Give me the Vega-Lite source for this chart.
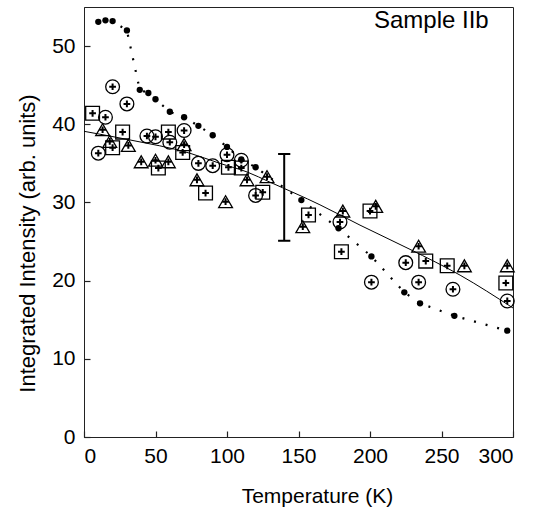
{
  "$schema": "https://vega.github.io/schema/vega-lite/v6.json",
  "autosize": {"type": "none"},
  "width": 429,
  "height": 430,
  "padding": {"left": 84, "top": 7, "right": 24, "bottom": 73},
  "background": "white",
  "config": {
    "view": {"stroke": "#222", "strokeWidth": 1},
    "font": "Liberation Sans",
    "axis": {
      "grid": false,
      "domainColor": "#222",
      "tickColor": "#222",
      "tickSize": -6,
      "tickWidth": 1.2,
      "labelFont": "Liberation Sans",
      "labelFontSize": 21,
      "labelColor": "black",
      "titleFont": "Liberation Sans",
      "titleFontWeight": "normal",
      "titleColor": "black"
    }
  },
  "datasets": {
    "dots": [
      {"T": 10, "I": 53.1}, {"T": 15, "I": 53.3}, {"T": 20, "I": 53.2}, {"T": 30, "I": 52.0},
      {"T": 39, "I": 44.4}, {"T": 45, "I": 44.0}, {"T": 50, "I": 43.2}, {"T": 60, "I": 41.6},
      {"T": 70, "I": 40.9}, {"T": 80, "I": 39.8}, {"T": 90, "I": 38.6}, {"T": 100, "I": 37.1},
      {"T": 110, "I": 35.5}, {"T": 120, "I": 34.5}, {"T": 152, "I": 30.3}, {"T": 178, "I": 26.7},
      {"T": 201, "I": 23.1}, {"T": 224, "I": 18.5}, {"T": 235, "I": 17.1}, {"T": 259, "I": 15.5},
      {"T": 296, "I": 13.6}
    ],
    "open": [
      {"kind": "circle", "T": 10, "I": 36.3}, {"kind": "circle", "T": 15, "I": 40.9},
      {"kind": "circle", "T": 20, "I": 44.8}, {"kind": "circle", "T": 30, "I": 42.6},
      {"kind": "circle", "T": 44, "I": 38.5}, {"kind": "circle", "T": 50, "I": 38.4},
      {"kind": "circle", "T": 60, "I": 37.7}, {"kind": "circle", "T": 70, "I": 39.2},
      {"kind": "circle", "T": 80, "I": 35.0}, {"kind": "circle", "T": 90, "I": 34.7},
      {"kind": "circle", "T": 100, "I": 36.1}, {"kind": "circle", "T": 110, "I": 35.4},
      {"kind": "circle", "T": 120, "I": 30.9}, {"kind": "circle", "T": 179, "I": 27.5},
      {"kind": "circle", "T": 201, "I": 19.8}, {"kind": "circle", "T": 225, "I": 22.3},
      {"kind": "circle", "T": 234, "I": 19.8}, {"kind": "circle", "T": 258, "I": 18.9},
      {"kind": "circle", "T": 296, "I": 17.4},
      {"kind": "square", "T": 6, "I": 41.4}, {"kind": "square", "T": 20, "I": 37.0},
      {"kind": "square", "T": 27, "I": 39.0}, {"kind": "square", "T": 52, "I": 34.4},
      {"kind": "square", "T": 59, "I": 39.0}, {"kind": "square", "T": 69, "I": 36.4},
      {"kind": "square", "T": 85, "I": 31.2}, {"kind": "square", "T": 101, "I": 34.5},
      {"kind": "square", "T": 110, "I": 34.4}, {"kind": "square", "T": 125, "I": 31.3},
      {"kind": "square", "T": 157, "I": 28.4}, {"kind": "square", "T": 180, "I": 23.7},
      {"kind": "square", "T": 200, "I": 28.9}, {"kind": "square", "T": 239, "I": 22.5},
      {"kind": "square", "T": 254, "I": 21.9}, {"kind": "square", "T": 295, "I": 19.7},
      {"kind": "triangle", "T": 13, "I": 39.3}, {"kind": "triangle", "T": 18, "I": 37.8},
      {"kind": "triangle", "T": 31, "I": 37.3}, {"kind": "triangle", "T": 40, "I": 35.2},
      {"kind": "triangle", "T": 50, "I": 35.4}, {"kind": "triangle", "T": 59, "I": 35.2},
      {"kind": "triangle", "T": 70, "I": 37.4}, {"kind": "triangle", "T": 79, "I": 32.9},
      {"kind": "triangle", "T": 99, "I": 30.1}, {"kind": "triangle", "T": 114, "I": 32.9},
      {"kind": "triangle", "T": 128, "I": 33.3}, {"kind": "triangle", "T": 153, "I": 26.9},
      {"kind": "triangle", "T": 181, "I": 28.9}, {"kind": "triangle", "T": 204, "I": 29.5},
      {"kind": "triangle", "T": 234, "I": 24.4}, {"kind": "triangle", "T": 266, "I": 21.9},
      {"kind": "triangle", "T": 296, "I": 21.9}
    ],
    "fit": [
      {"T": 0, "I": 39.1}, {"T": 32, "I": 38.0}, {"T": 74, "I": 36.3}, {"T": 95, "I": 35.0},
      {"T": 114, "I": 33.9}, {"T": 130, "I": 32.6}, {"T": 165, "I": 29.7}, {"T": 193, "I": 27.1},
      {"T": 228, "I": 24.0}, {"T": 263, "I": 20.7}, {"T": 300, "I": 16.5}
    ],
    "err": [{"T": 140, "lo": 25.1, "hi": 36.2}],
    "label": [{"T": 283, "I": 53.2, "text": "Sample IIb"}]
  },
  "encoding": {
    "x": {"field": "T", "type": "quantitative", "scale": {"domain": [0, 300], "nice": false},
      "axis": {"title": "Temperature (K)", "titleFontSize": 21, "values": [0, 50, 100, 150, 200, 250, 300], "labelPadding": 14, "titlePadding": 19, "titleX": 233}},
    "y": {"field": "I", "type": "quantitative", "scale": {"domain": [0, 55], "nice": false},
      "axis": {"title": "Integrated Intensity (arb. units)", "titleFontSize": 22, "values": [0, 10, 20, 30, 40, 50], "labelPadding": 15, "titlePadding": 12, "titleY": 236}}
  },
  "layer": [
    {"data": {"name": "fit"}, "mark": {"type": "line", "interpolate": "monotone", "color": "black", "strokeWidth": 1}},
    {"data": {"name": "dots"}, "mark": {"type": "line", "color": "black", "strokeWidth": 2.2, "strokeDash": [2, 10]}},
    {"data": {"name": "dots"}, "mark": {"type": "point", "filled": true, "color": "black", "size": 40, "opacity": 1}},
    {"data": {"name": "open"}, "mark": {"type": "point", "filled": false, "color": "black", "strokeWidth": 1.3, "opacity": 1},
      "encoding": {
        "shape": {"field": "kind", "type": "nominal", "scale": {"domain": ["circle", "square", "triangle"], "range": ["circle", "square", "triangle-up"]}, "legend": null},
        "size": {"field": "kind", "type": "nominal", "scale": {"domain": ["circle", "square", "triangle"], "range": [190, 190, 240]}, "legend": null}
      }},
    {"data": {"name": "open"}, "mark": {"type": "point", "filled": false, "color": "black", "strokeWidth": 2, "opacity": 1, "size": 45, "shape": "M-1,0L1,0M0,-1L0,1"}},
    {"data": {"name": "err"}, "mark": {"type": "rule", "color": "black", "strokeWidth": 2},
      "encoding": {"y": {"field": "lo", "type": "quantitative"}, "y2": {"field": "hi"}}},
    {"data": {"name": "err"}, "mark": {"type": "point", "shape": "stroke", "color": "black", "strokeWidth": 2, "size": 150, "opacity": 1},
      "encoding": {"y": {"field": "lo", "type": "quantitative"}}},
    {"data": {"name": "err"}, "mark": {"type": "point", "shape": "stroke", "color": "black", "strokeWidth": 2, "size": 150, "opacity": 1},
      "encoding": {"y": {"field": "hi", "type": "quantitative"}}},
    {"data": {"name": "label"}, "mark": {"type": "text", "align": "right", "baseline": "middle", "fontSize": 24, "font": "Liberation Sans", "color": "black"},
      "encoding": {"text": {"field": "text"}}}
  ]
}
